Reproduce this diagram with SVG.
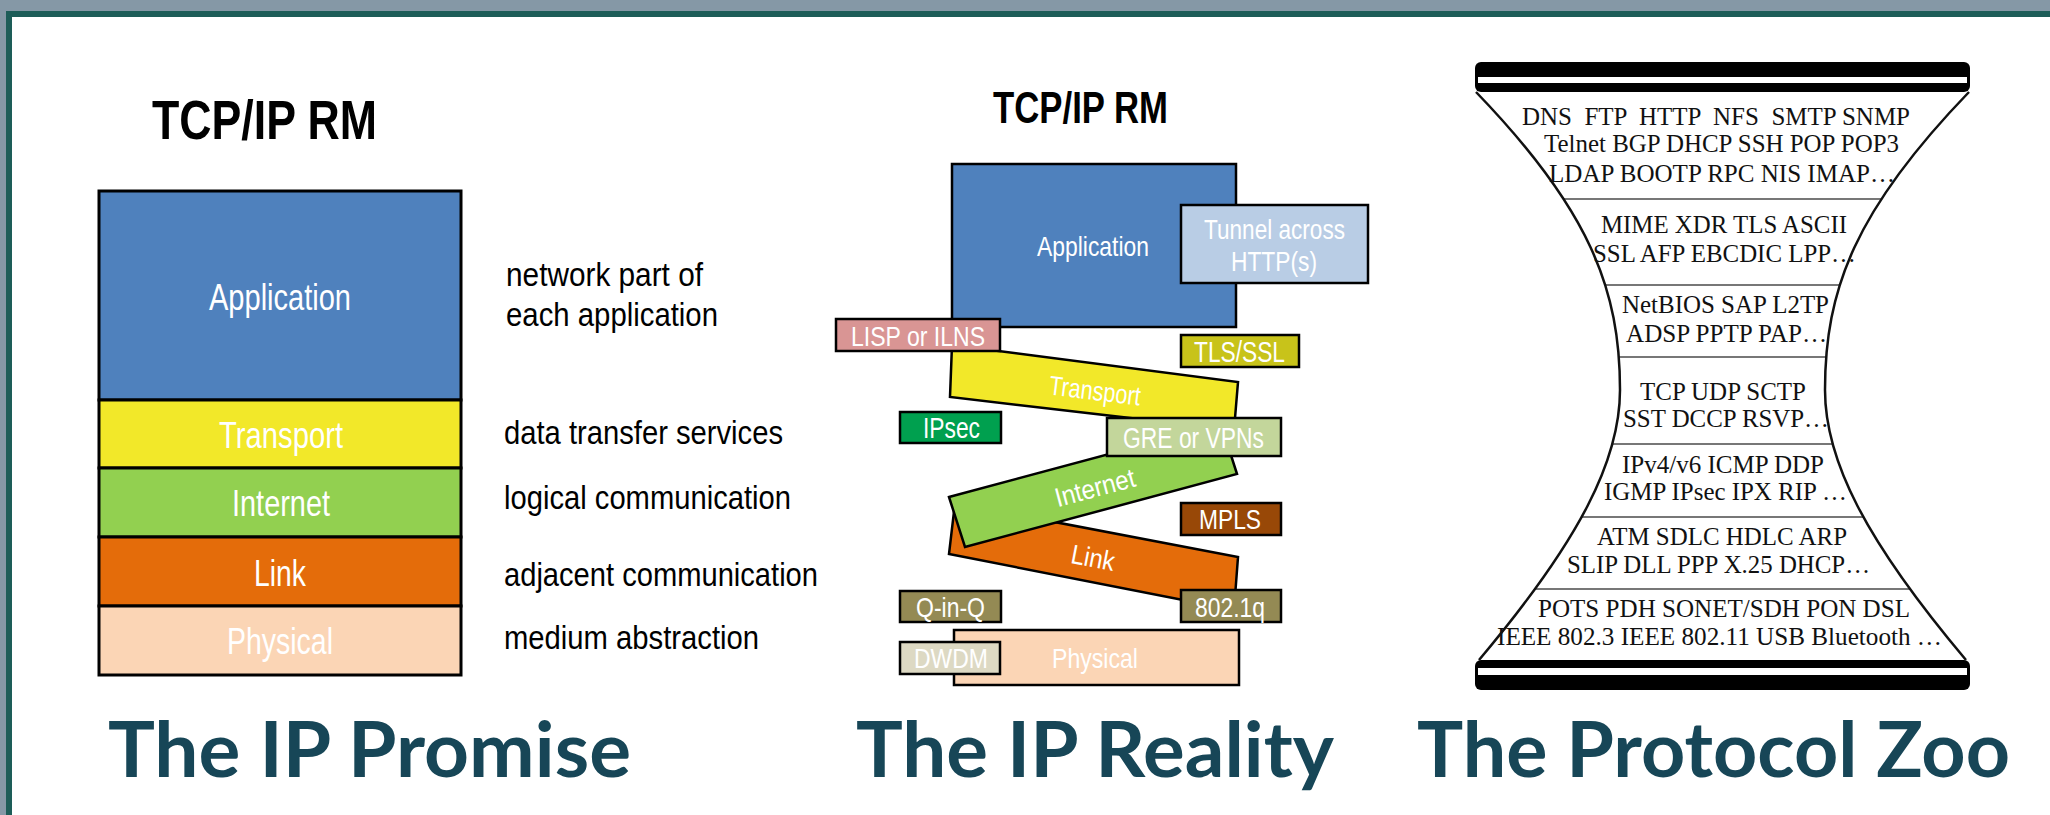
<svg xmlns="http://www.w3.org/2000/svg" width="2050" height="815" viewBox="0 0 2050 815">
<style>
.hd{font-family:"Liberation Sans",Arial,sans-serif;font-weight:bold;fill:#000}
.lb{font-family:"Liberation Sans",Arial,sans-serif;fill:#fff}
.ds{font-family:"Liberation Sans",Arial,sans-serif;fill:#000;font-size:33px}
.zt{font-family:"Liberation Serif","Times New Roman",serif;fill:#111;font-size:25px;white-space:pre}
.tt{font-family:Lato,"Open Sans",sans-serif;font-weight:bold;fill:#174657;font-size:76px}
.bx{stroke:#000;stroke-width:3}
.sb{stroke:#000;stroke-width:2.5}
</style>
<defs>
<clipPath id="hg"><path d="M1476,92 C1590,210 1620,290 1620,390 C1620,460 1580,540 1479,660 L1966,660 C1865,540 1825,460 1825,390 C1825,290 1855,210 1969,92 Z"/></clipPath>
</defs>
<g id="frame">
<rect x="0" y="0" width="2050" height="815" fill="#8598a6"/>
<rect x="6" y="11" width="2044" height="804" fill="#1d5d58"/>
<rect x="12" y="17" width="2038" height="798" fill="#fff"/>
</g>
<g id="connectors"/>
<!-- Panel 1 -->
<g id="promise">
<text class="hd" x="152" y="139" font-size="56" textLength="225" lengthAdjust="spacingAndGlyphs">TCP/IP RM</text>
<g id="p1-application"><rect class="bx" x="99" y="191" width="362" height="209" fill="#4f81bd"/><text class="lb" x="209" y="310" font-size="36" textLength="142" lengthAdjust="spacingAndGlyphs">Application</text></g>
<g id="p1-transport"><rect class="bx" x="99" y="400" width="362" height="68" fill="#f2e829"/><text class="lb" x="219" y="448" font-size="36" textLength="124" lengthAdjust="spacingAndGlyphs">Transport</text></g>
<g id="p1-internet"><rect class="bx" x="99" y="468" width="362" height="69" fill="#92d050"/><text class="lb" x="232" y="516" font-size="36" textLength="98" lengthAdjust="spacingAndGlyphs">Internet</text></g>
<g id="p1-link"><rect class="bx" x="99" y="537" width="362" height="69" fill="#e46c0a"/><text class="lb" x="254" y="586" font-size="36" textLength="52" lengthAdjust="spacingAndGlyphs">Link</text></g>
<g id="p1-physical"><rect class="bx" x="99" y="606" width="362" height="69" fill="#fbd5b5"/><text class="lb" x="227" y="654" font-size="36" textLength="106" lengthAdjust="spacingAndGlyphs">Physical</text></g>
<g id="p1-desc">
<text class="ds" x="506" y="286" textLength="197" lengthAdjust="spacingAndGlyphs">network part of</text>
<text class="ds" x="506" y="326" textLength="212" lengthAdjust="spacingAndGlyphs">each application</text>
<text class="ds" x="504" y="444" textLength="279" lengthAdjust="spacingAndGlyphs">data transfer services</text>
<text class="ds" x="504" y="509" textLength="287" lengthAdjust="spacingAndGlyphs">logical communication</text>
<text class="ds" x="504" y="586" textLength="314" lengthAdjust="spacingAndGlyphs">adjacent communication</text>
<text class="ds" x="504" y="649" textLength="255" lengthAdjust="spacingAndGlyphs">medium abstraction</text>
</g>
<text class="tt" x="108" y="777" textLength="523" lengthAdjust="spacingAndGlyphs">The IP Promise</text>
</g>
<!-- Panel 2 -->
<g id="reality">
<text class="hd" x="993" y="123" font-size="44" textLength="175" lengthAdjust="spacingAndGlyphs">TCP/IP RM</text>
<g id="p2-application"><rect class="sb" x="952" y="164" width="284" height="163" fill="#4f81bd"/><text class="lb" x="1037" y="256" font-size="28" textLength="112" lengthAdjust="spacingAndGlyphs">Application</text></g>
<g id="p2-tunnel"><rect class="sb" x="1181" y="205" width="187" height="78" fill="#b9cde5"/><text class="lb" x="1204" y="239" font-size="28" textLength="141" lengthAdjust="spacingAndGlyphs">Tunnel across</text><text class="lb" x="1231" y="271" font-size="28" textLength="86" lengthAdjust="spacingAndGlyphs">HTTP(s)</text></g>
<g id="p2-transport"><polygon class="sb" points="952,345 1238,382 1234,430 950,397" fill="#f2e829"/><text class="lb" x="1049" y="400" font-size="27" textLength="92" lengthAdjust="spacingAndGlyphs" transform="rotate(7 1095 391)">Transport</text></g>
<g id="p2-lisp"><rect class="sb" x="836" y="319" width="164" height="32" fill="#d99594"/><text class="lb" x="851" y="346" font-size="28" textLength="134" lengthAdjust="spacingAndGlyphs">LISP or ILNS</text></g>
<g id="p2-tls"><rect class="sb" x="1181" y="335" width="118" height="32" fill="#c8c31a"/><text class="lb" x="1194" y="362" font-size="30" textLength="91" lengthAdjust="spacingAndGlyphs">TLS/SSL</text></g>
<g id="p2-link"><polygon class="sb" points="955,503 1238,557 1234,610 949,554" fill="#e46c0a"/><text class="lb" x="1071" y="567" font-size="27" textLength="44" lengthAdjust="spacingAndGlyphs" transform="rotate(11 1093 558)">Link</text></g>
<g id="p2-internet"><polygon class="sb" points="949,497 1221,424 1237,474 965,547" fill="#92d050"/><text class="lb" x="1054" y="497" font-size="27" textLength="82" lengthAdjust="spacingAndGlyphs" transform="rotate(-15 1095 488)">Internet</text></g>
<g id="p2-ipsec"><rect class="sb" x="900" y="412" width="101" height="31" fill="#00a04f"/><text class="lb" x="923" y="438" font-size="30" textLength="57" lengthAdjust="spacingAndGlyphs">IPsec</text></g>
<g id="p2-gre"><rect class="sb" x="1107" y="418" width="174" height="38" fill="#c3d69b"/><text class="lb" x="1123" y="448" font-size="29" textLength="141" lengthAdjust="spacingAndGlyphs">GRE or VPNs</text></g>
<g id="p2-mpls"><rect class="sb" x="1181" y="503" width="100" height="32" fill="#984807"/><text class="lb" x="1199" y="529" font-size="28" textLength="62" lengthAdjust="spacingAndGlyphs">MPLS</text></g>
<g id="p2-8021q"><rect class="sb" x="1181" y="590" width="100" height="32" fill="#948a54"/><text class="lb" x="1195" y="617" font-size="28" textLength="70" lengthAdjust="spacingAndGlyphs">802.1q</text></g>
<g id="p2-qinq"><rect class="sb" x="900" y="591" width="101" height="31" fill="#948a54"/><text class="lb" x="916" y="617" font-size="28" textLength="69" lengthAdjust="spacingAndGlyphs">Q-in-Q</text></g>
<g id="p2-physical"><rect class="sb" x="954" y="630" width="285" height="55" fill="#fbd5b5"/><text class="lb" x="1052" y="668" font-size="28" textLength="86" lengthAdjust="spacingAndGlyphs">Physical</text></g>
<g id="p2-dwdm"><rect class="sb" x="900" y="642" width="100" height="32" fill="#ddd9c3"/><text class="lb" x="914" y="668" font-size="28" textLength="74" lengthAdjust="spacingAndGlyphs">DWDM</text></g>
<text class="tt" x="856" y="777" textLength="478" lengthAdjust="spacingAndGlyphs">The IP Reality</text>
</g>
<!-- Panel 3 -->
<g id="zoo">
<g id="zoo-outline">
<g clip-path="url(#hg)" stroke="#777" stroke-width="2">
<line x1="1470" y1="199" x2="1975" y2="199"/>
<line x1="1470" y1="285" x2="1975" y2="285"/>
<line x1="1470" y1="357" x2="1975" y2="357"/>
<line x1="1470" y1="444" x2="1975" y2="444"/>
<line x1="1470" y1="517" x2="1975" y2="517"/>
<line x1="1470" y1="589" x2="1975" y2="589"/>
</g>
<path d="M1476,92 C1590,210 1620,290 1620,390 C1620,460 1580,540 1479,660 M1969,92 C1855,210 1825,290 1825,390 C1825,460 1865,540 1966,660" fill="none" stroke="#111" stroke-width="2.5"/>
</g>
<g id="zoo-top"><rect x="1475" y="62" width="495" height="30" rx="6" fill="#000"/><rect x="1478" y="77" width="489" height="6" fill="#fff"/></g>
<g id="zoo-bottom"><rect x="1475" y="660" width="495" height="30" rx="6" fill="#000"/><rect x="1478" y="668" width="489" height="7" fill="#fff"/></g>
<g id="zoo-app">
<text class="zt" x="1522" y="125" textLength="388" lengthAdjust="spacingAndGlyphs">DNS  FTP  HTTP  NFS  SMTP SNMP</text>
<text class="zt" x="1544" y="152" textLength="355" lengthAdjust="spacingAndGlyphs">Telnet BGP DHCP SSH POP POP3</text>
<text class="zt" x="1549" y="182" textLength="346" lengthAdjust="spacingAndGlyphs">LDAP BOOTP RPC NIS IMAP…</text>
</g>
<g id="zoo-pres">
<text class="zt" x="1601" y="233" textLength="246" lengthAdjust="spacingAndGlyphs">MIME XDR TLS ASCII</text>
<text class="zt" x="1593" y="262" textLength="263" lengthAdjust="spacingAndGlyphs">SSL AFP EBCDIC LPP…</text>
</g>
<g id="zoo-sess">
<text class="zt" x="1622" y="313" textLength="207" lengthAdjust="spacingAndGlyphs">NetBIOS SAP L2TP</text>
<text class="zt" x="1626" y="342" textLength="201" lengthAdjust="spacingAndGlyphs">ADSP PPTP PAP…</text>
</g>
<g id="zoo-trans">
<text class="zt" x="1640" y="400" textLength="166" lengthAdjust="spacingAndGlyphs">TCP UDP SCTP</text>
<text class="zt" x="1623" y="427" textLength="206" lengthAdjust="spacingAndGlyphs">SST DCCP RSVP…</text>
</g>
<g id="zoo-net">
<text class="zt" x="1622" y="473" textLength="202" lengthAdjust="spacingAndGlyphs">IPv4/v6 ICMP DDP</text>
<text class="zt" x="1604" y="500" textLength="243" lengthAdjust="spacingAndGlyphs">IGMP IPsec IPX RIP …</text>
</g>
<g id="zoo-link">
<text class="zt" x="1597" y="545" textLength="250" lengthAdjust="spacingAndGlyphs">ATM SDLC HDLC ARP</text>
<text class="zt" x="1567" y="573" textLength="303" lengthAdjust="spacingAndGlyphs">SLIP DLL PPP X.25 DHCP…</text>
</g>
<g id="zoo-phys">
<text class="zt" x="1538" y="617" textLength="372" lengthAdjust="spacingAndGlyphs">POTS PDH SONET/SDH PON DSL</text>
<text class="zt" x="1497" y="645" textLength="445" lengthAdjust="spacingAndGlyphs">IEEE 802.3 IEEE 802.11 USB Bluetooth …</text>
</g>
<text class="tt" x="1417" y="777" textLength="593" lengthAdjust="spacingAndGlyphs">The Protocol Zoo</text>
</g>
</svg>
